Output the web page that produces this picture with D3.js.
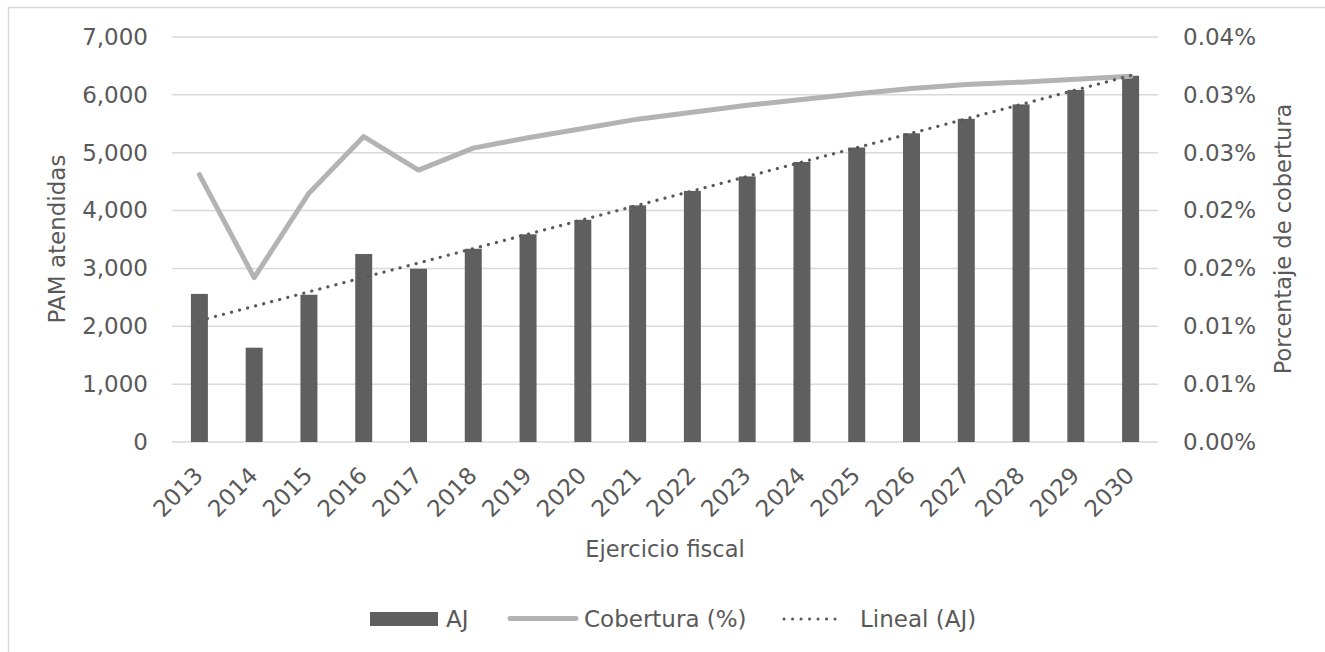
<!DOCTYPE html>
<html><head><meta charset="utf-8">
<script src="https://cdn.jsdelivr.net/npm/d3@7"></script>
<style>body{margin:0;background:#fff}svg{display:block}text{font-family:"DejaVu Sans",sans-serif;fill:#595959}</style>
</head><body><svg id="c" width="1325" height="652"></svg>
<script>
const years = ["2013","2014","2015","2016","2017","2018","2019","2020","2021","2022","2023","2024","2025","2026","2027","2028","2029","2030"];
const aj = [2560,1630,2545,3250,2995,3340,3590,3840,4090,4340,4590,4840,5090,5335,5585,5835,6085,6330];
const cobertura = [0.0231,0.0142,0.0215,0.0264,0.0235,0.0254,0.0263,0.0271,0.0279,0.0285,0.0291,0.0296,0.0301,0.03055,0.0309,0.0311,0.03135,0.0316];
const leftTicks = [0,1000,2000,3000,4000,5000,6000,7000];
const rightTicks = [0,0.005,0.01,0.015,0.02,0.025,0.03,0.035];
const rightTickLabels = ["0.00%","0.01%","0.01%","0.02%","0.02%","0.03%","0.03%","0.04%"];

const svg = d3.select("#c");
svg.append("rect").attr("x",8.5).attr("y",7.5).attr("width",1330).attr("height",700)
  .attr("fill","none").attr("stroke","#d9d9d9").attr("stroke-width",1.5);

const L=172, R=1158, T=37, B=442;
const x = d3.scaleBand().domain(years).range([L,R]).paddingInner(0.69).paddingOuter(0.345);
const cx = d => x(d)+x.bandwidth()/2;
const yL = d3.scaleLinear().domain([0,7000]).range([B,T]);
const yR = d3.scaleLinear().domain([0,0.035]).range([B,T]);

// gridlines
svg.append("g").selectAll("line").data(leftTicks).join("line")
  .attr("x1",L).attr("x2",R).attr("y1",d=>yL(d)).attr("y2",d=>yL(d))
  .attr("stroke","#d9d9d9").attr("stroke-width",1.5);

// left axis labels
const gl = svg.append("g").attr("transform",`translate(${L-24},0)`)
  .call(d3.axisLeft(yL).tickValues(leftTicks).tickSize(0).tickPadding(0).tickFormat(d3.format(",")));
gl.select(".domain").remove();
gl.selectAll("text").style("font-size","23px").style("font-family","DejaVu Sans").attr("fill","#595959");

// right axis labels
const gr = svg.append("g").attr("transform",`translate(${R+25},0)`)
  .call(d3.axisRight(yR).tickValues(rightTicks).tickSize(0).tickPadding(0).tickFormat((d,i)=>rightTickLabels[i]));
gr.select(".domain").remove();
gr.selectAll("text").style("font-size","23px").style("font-family","DejaVu Sans").attr("fill","#595959");

// bars
svg.append("g").selectAll("rect").data(years).join("rect")
  .attr("x",d=>x(d)).attr("width",x.bandwidth())
  .attr("y",(d,i)=>yL(aj[i])).attr("height",(d,i)=>yL(0)-yL(aj[i]))
  .attr("fill","#5f5f5f");

// coverage line
svg.append("path").datum(cobertura)
  .attr("d",d3.line().x((d,i)=>cx(years[i])).y(d=>yR(d)))
  .attr("fill","none").attr("stroke","#b3b3b3").attr("stroke-width",5)
  .attr("stroke-linejoin","round").attr("stroke-linecap","round");

// linear trend (least squares on AJ)
const n = aj.length, idx = d3.range(n);
const mx = d3.mean(idx), my = d3.mean(aj);
const slope = d3.sum(idx,i=>(i-mx)*(aj[i]-my))/d3.sum(idx,i=>(i-mx)*(i-mx));
const icp = my - slope*mx;
svg.append("line")
  .attr("x1",cx(years[0])).attr("y1",yL(icp))
  .attr("x2",cx(years[n-1])).attr("y2",yL(icp+slope*(n-1)))
  .attr("stroke","#595959").attr("stroke-width",3.2)
  .attr("stroke-dasharray","0.1 8.2").attr("stroke-linecap","round");

// x labels
svg.append("g").selectAll("text").data(years).join("text")
  .attr("transform",d=>`translate(${cx(d)+5},477) rotate(-45)`)
  .attr("text-anchor","end").style("font-size","23px").text(d=>d);

// axis titles
svg.append("text").attr("transform","translate(57,239) rotate(-90)")
  .attr("text-anchor","middle").attr("dominant-baseline","central")
  .style("font-size","23px").text("PAM atendidas");
svg.append("text").attr("transform","translate(1283,239) rotate(-90)")
  .attr("text-anchor","middle").attr("dominant-baseline","central")
  .style("font-size","22.5px").text("Porcentaje de cobertura");
svg.append("text").attr("x",665).attr("y",557).attr("text-anchor","middle")
  .style("font-size","22.5px").text("Ejercicio fiscal");

// legend
const lg = svg.append("g");
lg.append("rect").attr("x",370).attr("y",612).attr("width",68).attr("height",14).attr("fill","#5f5f5f");
lg.append("text").attr("x",446).attr("y",627).style("font-size","23px").text("AJ");
lg.append("line").attr("x1",510).attr("x2",576).attr("y1",618.5).attr("y2",618.5)
  .attr("stroke","#b3b3b3").attr("stroke-width",5).attr("stroke-linecap","round");
lg.append("text").attr("x",584).attr("y",627).style("font-size","23px").text("Cobertura (%)");
lg.append("line").attr("x1",784).attr("x2",843).attr("y1",619).attr("y2",619)
  .attr("stroke","#595959").attr("stroke-width",3).attr("stroke-dasharray","0.1 8.4").attr("stroke-linecap","round");
lg.append("text").attr("x",860).attr("y",627).style("font-size","23px").text("Lineal (AJ)");
</script></body></html>
